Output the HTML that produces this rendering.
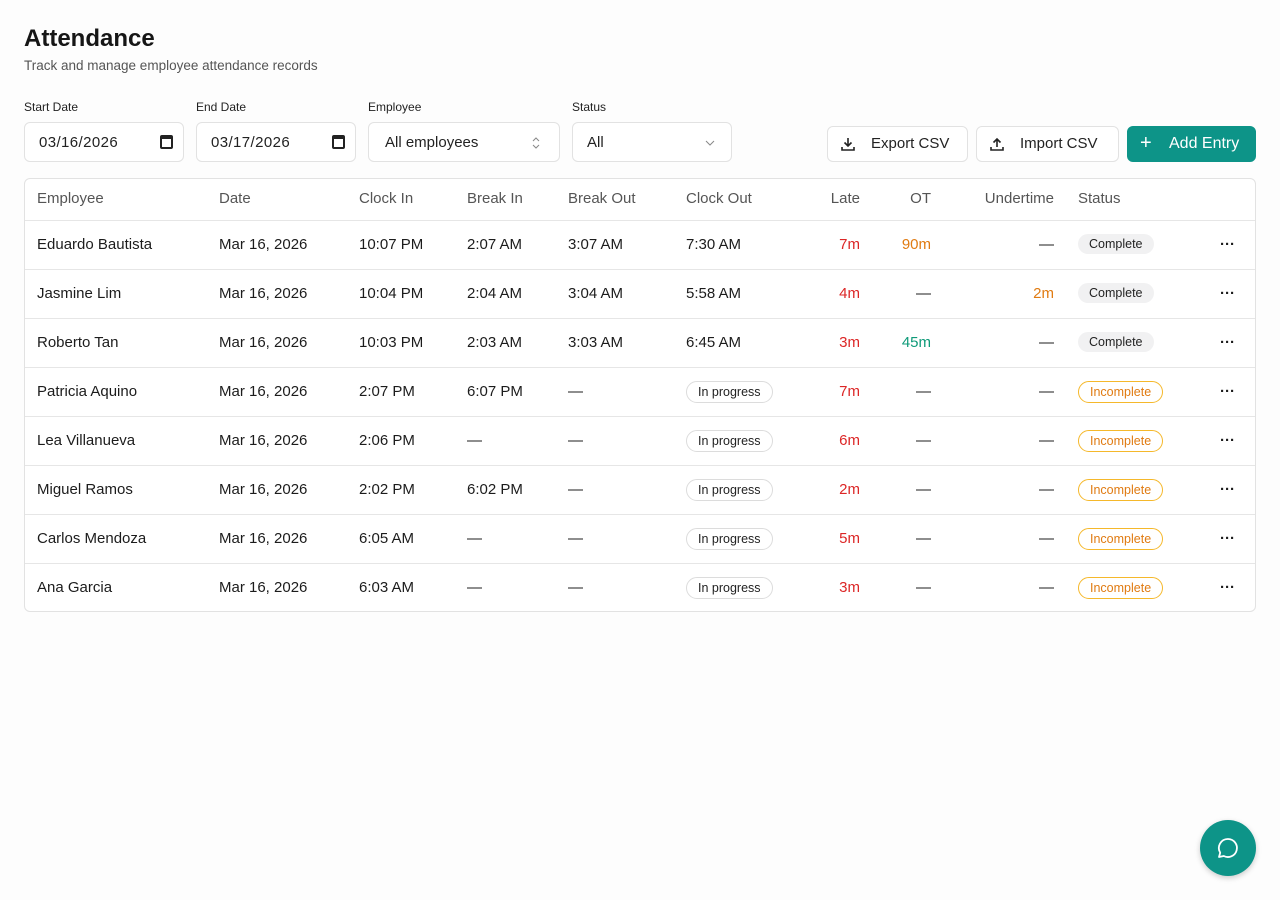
<!DOCTYPE html>
<html><head><meta charset="utf-8"><style>
*{box-sizing:border-box;margin:0;padding:0}
body{width:1280px;height:900px;background:#fdfdfd;font-family:"Liberation Sans",sans-serif;color:#1c1c1c;position:relative;overflow:hidden}
.a{position:absolute;white-space:nowrap}
h1{position:absolute;left:24px;top:25px;font-size:24px;font-weight:bold;color:#161616}
.sub{left:24px;top:58px;font-size:13.5px;color:#555}
.lbl{top:100px;font-size:12px;color:#222}
.inp{top:122px;height:40px;border:1px solid #e2e2e2;border-radius:6px;background:#fff;font-size:15px;padding:11px 14px;color:#222}
.btn{top:126px;height:36px;border:1px solid #e2e2e2;border-radius:6px;background:#fff;font-size:15px;padding:8px 12px;color:#222}
.tbl{left:24px;top:178px;width:1232px;height:434px;border:1px solid #e2e2e2;border-radius:6px;background:#fff}
.row{position:absolute;left:0;width:1230px;height:49px;border-top:1px solid #e6e6e6;font-size:15px}
.row span{position:absolute;top:15px;white-space:nowrap}
.hd{font-size:15px;color:#555}
.r{text-align:right}
.red{color:#dc2626}.or{color:#e07b12}.gr{color:#0f9a79}
.pill{top:13px!important;font-size:12.5px;padding:3px 11px;border-radius:12px}
.cp{background:#f1f1f2;color:#222}
.ip{border:1px solid #dcdcdc;color:#222}
.ic{border:1px solid #f5b82b;color:#e07b12}
.dots{font-weight:bold}
</style></head><body>
<h1>Attendance</h1>
<div class="a sub">Track and manage employee attendance records</div>
<div class="a lbl" style="left:24px">Start Date</div>
<div class="a lbl" style="left:196px">End Date</div>
<div class="a lbl" style="left:368px">Employee</div>
<div class="a lbl" style="left:572px">Status</div>
<div class="a inp" style="left:24px;width:160px;letter-spacing:0.4px">03/16/2026<span style="position:absolute;right:10px;top:12px;width:13px;height:14px;border:2px solid #222;border-top-width:4px;border-radius:2px"></span></div>
<div class="a inp" style="left:196px;width:160px;letter-spacing:0.4px">03/17/2026<span style="position:absolute;right:10px;top:12px;width:13px;height:14px;border:2px solid #222;border-top-width:4px;border-radius:2px"></span></div>
<div class="a inp" style="left:368px;width:192px;padding-left:16px">All employees<svg style="position:absolute;right:18px;top:13px" width="10" height="14"><path d="M2 5l3-3 3 3M2 9l3 3 3-3" stroke="#888" fill="none"/></svg></div>
<div class="a inp" style="left:572px;width:160px">All<svg style="position:absolute;right:16px;top:17px" width="10" height="6"><path d="M1 1l4 4 4-4" stroke="#888" fill="none"/></svg></div>
<div class="a btn" style="left:827px;width:141px"><svg style="position:absolute;left:13px;top:10px" width="14" height="14"><path d="M7 1v8M3.5 5.5L7 9l3.5-3.5M1 10v3h12v-3" stroke="#222" stroke-width="1.6" fill="none"/></svg><span style="position:absolute;left:43px;top:8px">Export CSV</span></div>
<div class="a btn" style="left:976px;width:143px"><svg style="position:absolute;left:13px;top:10px" width="14" height="14"><path d="M7 10V2M3.5 5.5L7 2l3.5 3.5M1 10v3h12v-3" stroke="#222" stroke-width="1.6" fill="none"/></svg><span style="position:absolute;left:43px;top:8px">Import CSV</span></div>
<div class="a btn" style="left:1127px;width:129px;background:#0d9488;border-color:#0d9488;color:#fff"><span style="position:absolute;left:12px;top:5px;font-size:20px;font-weight:300">+</span><span style="position:absolute;left:41px;top:8px;font-size:16px">Add Entry</span></div>

<div class="a tbl">
<div class="row hd" style="top:0;border-top:none;height:41px"><span style="left:12px;top:11px">Employee</span><span style="left:194px;top:11px">Date</span><span style="left:334px;top:11px">Clock In</span><span style="left:442px;top:11px">Break In</span><span style="left:543px;top:11px">Break Out</span><span style="left:661px;top:11px">Clock Out</span><span class="r" style="right:395px;top:11px">Late</span><span class="r" style="right:324px;top:11px">OT</span><span class="r" style="right:201px;top:11px">Undertime</span><span style="left:1053px;top:11px">Status</span></div>

<div class="row" style="top:41px"><span style="left:12px">Eduardo Bautista</span><span style="left:194px">Mar 16, 2026</span><span style="left:334px">10:07 PM</span><span style="left:442px">2:07 AM</span><span style="left:543px">3:07 AM</span><span style="left:661px">7:30 AM</span><span class="red" style="right:395px">7m</span><span class="or" style="right:324px">90m</span><span style="right:201px">—</span><span class="pill cp" style="left:1053px">Complete</span><span class="dots" style="left:1195px">···</span></div>
<div class="row" style="top:90px"><span style="left:12px">Jasmine Lim</span><span style="left:194px">Mar 16, 2026</span><span style="left:334px">10:04 PM</span><span style="left:442px">2:04 AM</span><span style="left:543px">3:04 AM</span><span style="left:661px">5:58 AM</span><span class="red" style="right:395px">4m</span><span style="right:324px">—</span><span class="or" style="right:201px">2m</span><span class="pill cp" style="left:1053px">Complete</span><span class="dots" style="left:1195px">···</span></div>
<div class="row" style="top:139px"><span style="left:12px">Roberto Tan</span><span style="left:194px">Mar 16, 2026</span><span style="left:334px">10:03 PM</span><span style="left:442px">2:03 AM</span><span style="left:543px">3:03 AM</span><span style="left:661px">6:45 AM</span><span class="red" style="right:395px">3m</span><span class="gr" style="right:324px">45m</span><span style="right:201px">—</span><span class="pill cp" style="left:1053px">Complete</span><span class="dots" style="left:1195px">···</span></div>
<div class="row" style="top:188px"><span style="left:12px">Patricia Aquino</span><span style="left:194px">Mar 16, 2026</span><span style="left:334px">2:07 PM</span><span style="left:442px">6:07 PM</span><span style="left:543px">—</span><span class="pill ip" style="left:661px">In progress</span><span class="red" style="right:395px">7m</span><span style="right:324px">—</span><span style="right:201px">—</span><span class="pill ic" style="left:1053px">Incomplete</span><span class="dots" style="left:1195px">···</span></div>
<div class="row" style="top:237px"><span style="left:12px">Lea Villanueva</span><span style="left:194px">Mar 16, 2026</span><span style="left:334px">2:06 PM</span><span style="left:442px">—</span><span style="left:543px">—</span><span class="pill ip" style="left:661px">In progress</span><span class="red" style="right:395px">6m</span><span style="right:324px">—</span><span style="right:201px">—</span><span class="pill ic" style="left:1053px">Incomplete</span><span class="dots" style="left:1195px">···</span></div>
<div class="row" style="top:286px"><span style="left:12px">Miguel Ramos</span><span style="left:194px">Mar 16, 2026</span><span style="left:334px">2:02 PM</span><span style="left:442px">6:02 PM</span><span style="left:543px">—</span><span class="pill ip" style="left:661px">In progress</span><span class="red" style="right:395px">2m</span><span style="right:324px">—</span><span style="right:201px">—</span><span class="pill ic" style="left:1053px">Incomplete</span><span class="dots" style="left:1195px">···</span></div>
<div class="row" style="top:335px"><span style="left:12px">Carlos Mendoza</span><span style="left:194px">Mar 16, 2026</span><span style="left:334px">6:05 AM</span><span style="left:442px">—</span><span style="left:543px">—</span><span class="pill ip" style="left:661px">In progress</span><span class="red" style="right:395px">5m</span><span style="right:324px">—</span><span style="right:201px">—</span><span class="pill ic" style="left:1053px">Incomplete</span><span class="dots" style="left:1195px">···</span></div>
<div class="row" style="top:384px"><span style="left:12px">Ana Garcia</span><span style="left:194px">Mar 16, 2026</span><span style="left:334px">6:03 AM</span><span style="left:442px">—</span><span style="left:543px">—</span><span class="pill ip" style="left:661px">In progress</span><span class="red" style="right:395px">3m</span><span style="right:324px">—</span><span style="right:201px">—</span><span class="pill ic" style="left:1053px">Incomplete</span><span class="dots" style="left:1195px">···</span></div>
</div>

<div class="a" style="left:1200px;top:820px;width:56px;height:56px;border-radius:50%;background:#0d9488;box-shadow:0 2px 6px rgba(0,0,0,.2)"><svg style="position:absolute;left:16px;top:16px" width="24" height="24" viewBox="0 0 24 24"><path d="M12 3a9 9 0 1 1-4.2 17L3 21l1.2-4.3A9 9 0 0 1 12 3z" stroke="#fff" stroke-width="1.8" fill="none" stroke-linejoin="round"/></svg></div>
</body></html>
